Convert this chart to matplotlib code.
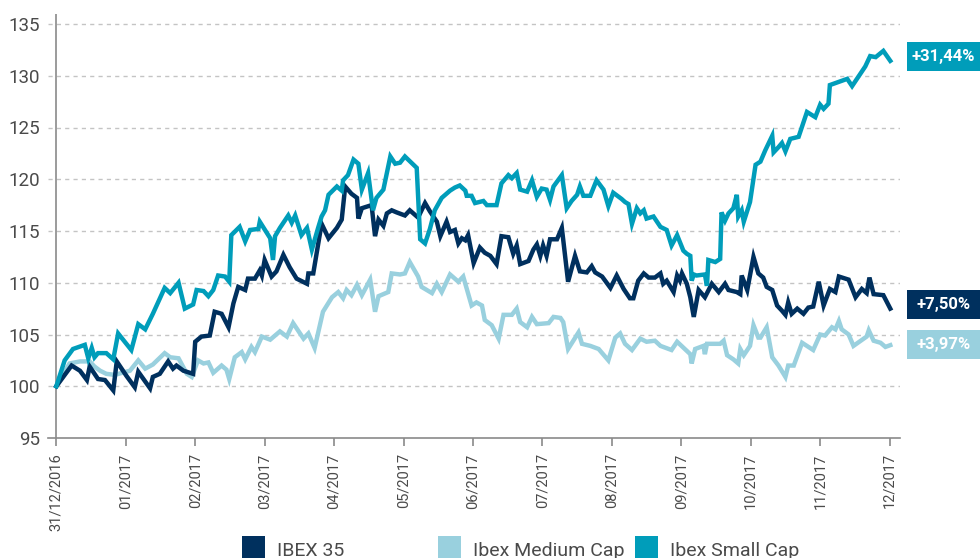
import matplotlib
matplotlib.use("Agg")
import matplotlib.pyplot as plt
import matplotlib.transforms as mtransforms
from matplotlib.patches import Rectangle

plt.rcParams['font.family'] = ['Roboto', 'DejaVu Sans']

# ---------------- data (x in months since 31/12/2016) ----------------
tick_labels = ["31/12/2016", "01/2017", "02/2017", "03/2017", "04/2017", "05/2017",
               "06/2017", "07/2017", "08/2017", "09/2017", "10/2017", "11/2017", "12/2017"]
y_ticks = [95, 100, 105, 110, 115, 120, 125, 130, 135]

series_names = ["IBEX 35", "Ibex Medium Cap", "Ibex Small Cap"]
final_labels = ["+7,50%", "+3,97%", "+31,44%"]

ibex35_x = [0, 0.22, 0.34, 0.44, 0.48, 0.60, 0.70, 0.82, 0.87, 1.01, 1.13, 1.18, 1.35, 1.39,
            1.49, 1.61, 1.68, 1.73, 1.83, 1.97, 2.00, 2.09, 2.21, 2.28, 2.38, 2.48, 2.55, 2.62,
            2.72, 2.76, 2.86, 2.93, 2.96, 3.00, 3.10, 3.17, 3.27, 3.36, 3.46, 3.61, 3.63, 3.70,
            3.82, 3.92, 4.04, 4.11, 4.16, 4.25, 4.33, 4.35, 4.40, 4.49, 4.54, 4.59, 4.64, 4.71,
            4.76, 4.83, 4.90, 5.02, 5.09, 5.21, 5.31, 5.38, 5.48, 5.53, 5.62, 5.67, 5.74, 5.79,
            5.84, 5.89, 5.93, 6.01, 6.10, 6.17, 6.25, 6.34, 6.41, 6.51, 6.58, 6.63, 6.68, 6.80,
            6.87, 6.92, 6.97, 7.01, 7.06, 7.11, 7.21, 7.28, 7.37, 7.47, 7.54, 7.64, 7.71, 7.76,
            7.86, 7.98, 8.07, 8.17, 8.26, 8.31, 8.38, 8.46, 8.53, 8.62, 8.70, 8.74, 8.79, 8.89,
            8.94, 8.98, 9.01, 9.08, 9.13, 9.18, 9.25, 9.34, 9.44, 9.54, 9.63, 9.68, 9.80, 9.85,
            9.87, 9.95, 10.04, 10.11, 10.18, 10.23, 10.31, 10.38, 10.45, 10.50, 10.54, 10.59,
            10.67, 10.76, 10.83, 10.90, 10.98, 11.05, 11.14, 11.22, 11.27, 11.41, 11.51, 11.60,
            11.67, 11.71, 11.77, 11.91, 12.01]
ibex35_y = [100, 102, 101.5, 100.6, 101.9, 100.7, 100.6, 99.6, 102.4, 101, 99.9, 101.4, 99.8,
            100.9, 101.2, 102.4, 101.7, 102, 101.5, 101.2, 104.3, 104.8, 104.9, 107.2, 107,
            105.7, 108, 109.6, 109.3, 110.4, 110.4, 111.2, 110.7, 112.2, 110.6, 111.1, 112.7,
            111.5, 110.4, 109.9, 110.9, 110.9, 115.7, 114.3, 115.3, 116.1, 119.3, 118.6, 118.2,
            116.2, 117.2, 117.4, 117.5, 114.5, 116.1, 115.5, 116.7, 117, 116.8, 116.5, 117,
            116.3, 117.7, 116.9, 115.9, 114.5, 115.9, 114.9, 115.1, 113.8, 114.3, 114.1, 114.6,
            111.9, 113.4, 112.9, 112.6, 111.8, 114.5, 114.4, 112.8, 113.6, 111.8, 112.1, 113.2,
            113.7, 112.6, 113.6, 112.6, 114.2, 114.2, 115.3, 110.1, 112.6, 111.1, 111, 111.6,
            111, 110.6, 109.5, 110.7, 109.4, 108.5, 108.5, 110.2, 110.9, 110.5, 110.5, 110.9,
            109.9, 110.2, 109.1, 110.7, 110.2, 110.9, 109.9, 108.6, 106.7, 109.3, 108.6, 109.9,
            109.1, 109.9, 109.3, 109.1, 108.9, 110.7, 109.3, 112.5, 110.9, 110.5, 109.6, 109.3,
            107.8, 107.3, 106.9, 108.1, 107, 107.5, 107, 107.6, 107.7, 110.1, 107.8, 109.4,
            109.1, 110.6, 110.3, 108.6, 109.4, 109, 110.5, 108.9, 108.8, 107.5]

medium_x = [0, 0.19, 0.34, 0.48, 0.55, 0.63, 0.72, 0.84, 1.06, 1.18, 1.28, 1.39, 1.56, 1.64,
            1.76, 1.88, 1.95, 2.04, 2.12, 2.19, 2.26, 2.38, 2.45, 2.49, 2.57, 2.67, 2.72, 2.81,
            2.86, 2.96, 3.08, 3.22, 3.32, 3.41, 3.56, 3.63, 3.72, 3.84, 3.97, 4.06, 4.13, 4.18,
            4.25, 4.33, 4.40, 4.52, 4.59, 4.64, 4.78, 4.83, 4.95, 5.02, 5.09, 5.21, 5.26, 5.41,
            5.48, 5.55, 5.67, 5.79, 5.86, 5.98, 6.05, 6.13, 6.17, 6.27, 6.37, 6.44, 6.56, 6.63,
            6.68, 6.78, 6.85, 6.92, 7.09, 7.16, 7.26, 7.30, 7.37, 7.52, 7.57, 7.69, 7.81, 7.95,
            8.05, 8.12, 8.19, 8.29, 8.41, 8.50, 8.62, 8.70, 8.86, 8.94, 9.13, 9.15, 9.20, 9.32,
            9.34, 9.37, 9.56, 9.61, 9.66, 9.75, 9.82, 9.85, 9.90, 9.99, 10.04, 10.11, 10.14,
            10.23, 10.31, 10.40, 10.50, 10.54, 10.62, 10.74, 10.90, 11.00, 11.07, 11.17, 11.22,
            11.27, 11.31, 11.41, 11.48, 11.67, 11.70, 11.77, 11.87, 11.94, 12.01]
medium_y = [100, 102.2, 102.4, 102.4, 101.9, 101.5, 101.2, 101.1, 101.5, 102.5, 101.7, 102.1,
            103.2, 102.8, 102.7, 101.2, 100.9, 102.5, 102.2, 102.3, 101.3, 102, 101.6, 100.7,
            102.8, 103.3, 102.6, 103.8, 103.3, 104.8, 104.5, 105.3, 104.8, 106.1, 104.6, 105.1,
            103.7, 107.2, 108.6, 109.1, 108.5, 109.3, 108.8, 109.8, 108.8, 110.3, 107.2, 108.7,
            109.1, 110.9, 110.8, 110.9, 112, 110.6, 109.6, 109, 109.9, 109.1, 110.8, 110.1,
            110.6, 107.8, 108.1, 107.8, 106.4, 105.9, 104.6, 106.9, 106.9, 107.5, 106.2, 105.7,
            106.7, 106, 106.1, 106.7, 106.6, 106.2, 103.6, 105.2, 104.1, 103.9, 103.6, 102.5,
            104.7, 105.1, 104.1, 103.5, 104.6, 104.3, 104.4, 103.9, 103.5, 104.3, 103.1, 102.2,
            103.6, 103.9, 103.1, 104.1, 104.1, 104.4, 103, 102.6, 102.2, 103.6, 103, 103.9,
            105.9, 104.7, 104.7, 105.7, 102.8, 102, 100.9, 102, 102, 104.2, 103.5, 105, 104.9,
            105.7, 105.5, 106.3, 105.5, 105, 103.9, 104.8, 105.4, 104.4, 104.2, 103.8, 103.97]

small_x = [0, 0.12, 0.24, 0.41, 0.46, 0.51, 0.55, 0.60, 0.72, 0.82, 0.89, 1.08, 1.18, 1.28,
           1.39, 1.56, 1.64, 1.76, 1.85, 1.97, 2.02, 2.12, 2.19, 2.26, 2.33, 2.43, 2.49, 2.52,
           2.64, 2.72, 2.79, 2.91, 2.93, 3.08, 3.12, 3.15, 3.22, 3.34, 3.39, 3.44, 3.53, 3.61,
           3.68, 3.77, 3.82, 3.87, 3.92, 4.04, 4.11, 4.13, 4.20, 4.28, 4.35, 4.40, 4.49, 4.56,
           4.61, 4.71, 4.81, 4.88, 4.95, 5.02, 5.19, 5.24, 5.31, 5.38, 5.45, 5.55, 5.67, 5.74,
           5.81, 5.89, 5.91, 5.98, 6.03, 6.15, 6.20, 6.34, 6.41, 6.51, 6.56, 6.63, 6.68, 6.78,
           6.85, 6.92, 6.99, 7.06, 7.11, 7.16, 7.28, 7.35, 7.42, 7.50, 7.54, 7.59, 7.69, 7.78,
           7.88, 7.95, 8.02, 8.14, 8.19, 8.24, 8.29, 8.36, 8.41, 8.46, 8.50, 8.60, 8.70, 8.79,
           8.86, 8.94, 9.03, 9.08, 9.13, 9.15, 9.18, 9.22, 9.34, 9.37, 9.39, 9.49, 9.56, 9.58,
           9.63, 9.68, 9.75, 9.80, 9.82, 9.87, 9.90, 9.99, 10.07, 10.14, 10.21, 10.31, 10.33,
           10.40, 10.45, 10.50, 10.57, 10.69, 10.81, 10.93, 11.00, 11.05, 11.12, 11.14, 11.39,
           11.46, 11.57, 11.65, 11.72, 11.80, 11.91, 12.01]
small_y = [100, 102.5, 103.6, 104, 102.7, 103.7, 102.8, 103.2, 103.2, 102.6, 105.1, 103.5,
           106, 105.5, 107, 109.5, 109, 110, 107.5, 107.9, 109.3, 109.2, 108.7, 109.3, 110.7,
           110.6, 110.1, 114.6, 115.4, 114, 115.1, 115.2, 115.9, 114.3, 112.2, 114.5, 115.3,
           116.5, 115.8, 116.5, 114.6, 115.3, 113.2, 115.3, 116.4, 117, 118.5, 119.3, 118.9,
           119.9, 120.4, 121.9, 121.5, 119, 120.6, 117, 118.2, 119, 122.2, 121.5, 121.6, 122.2,
           121.1, 114.2, 113.8, 115.2, 117, 118.2, 118.9, 119.2, 119.4, 118.9, 118.4, 118.4,
           117.7, 117.9, 117.5, 117.5, 119.6, 120.4, 120.1, 120.6, 119, 118.8, 119.9, 118.3,
           119.1, 119, 118, 119.3, 120.4, 117.2, 117.9, 118.5, 119.3, 118.4, 118.4, 119.9, 119,
           117.4, 118.7, 118.1, 117.8, 117.6, 115.7, 117.2, 116.7, 117, 116.2, 116.4, 115.4,
           115.1, 113.6, 114.6, 113.1, 112.8, 112.6, 110.2, 110.8, 110.7, 110.8, 109.7, 112.2,
           112, 112.3, 116.8, 116, 116.7, 117.2, 118.5, 116.4, 117, 115.9, 117.8, 121.4, 121.7,
           122.8, 124.2, 122.6, 123.1, 123.5, 122.7, 123.9, 124.1, 126.5, 126, 127.2, 126.8,
           127.3, 129.1, 129.7, 129, 130.1, 130.9, 131.9, 131.8, 132.4, 131.44]

# ---------------- styling ----------------
c_ibex = "#00305E"
c_med = "#99D0DE"
c_small = "#009DBA"
colors = [c_ibex, c_med, c_small]
txt_col = "#4a4a4a"

fig = plt.figure(figsize=(9.8, 5.58), dpi=100)
ax = fig.add_axes([48 / 980, 1 - 438 / 558, (900 - 48) / 980, (438 - 13.65) / 558])

ax.plot(medium_x, medium_y, color=c_med, lw=3.2, solid_joinstyle='miter', zorder=3)
ax.plot(ibex35_x, ibex35_y, color=c_ibex, lw=3.2, solid_joinstyle='miter', zorder=4)
ax.plot(small_x, small_y, color=c_small, lw=3.2, solid_joinstyle='miter', zorder=5)

ax.set_xlim(-0.12, 12.15)
ax.set_ylim(95, 136)

# grid
for v in y_ticks[1:]:
    ax.axhline(v, color="#c4c4c4", lw=1, ls=(0, (3, 3)), zorder=1)
ax.axvline(0, color="#8a8a8a", lw=1.2, zorder=2)

for s in ["top", "right", "left"]:
    ax.spines[s].set_visible(False)
ax.spines["bottom"].set_color("#8a8a8a")
ax.spines["bottom"].set_linewidth(1.2)

ax.set_yticks(y_ticks)
ax.set_yticklabels([str(v) for v in y_ticks])
ax.tick_params(axis="y", length=0, pad=6, labelsize=13.5, labelcolor=txt_col)
ax.set_xticks(range(len(tick_labels)))
ax.set_xticklabels(tick_labels, rotation=90)
ax.tick_params(axis="x", length=6, width=1.2, color="#8a8a8a", pad=5,
               labelsize=10.5, labelcolor=txt_col)

# end labels
trans = mtransforms.blended_transform_factory(fig.transFigure, ax.transData)
final_vals = [ibex35_y[-1], medium_y[-1], small_y[-1]]
offsets = [0.4, 0.05, 0.45]
for name, lab, val, off, col in zip(series_names, final_labels, final_vals, offsets, colors):
    yc = val + off
    h = 2.8
    rect = Rectangle((907 / 980, yc - h / 2), 73 / 980, h, transform=trans,
                     facecolor=col, edgecolor="none", clip_on=False)
    fig.add_artist(rect)
    fig.text(943.5 / 980, yc, lab, transform=trans, ha="center", va="center",
             color="white", fontsize=12, fontweight="bold")

# legend
leg_x = [242, 438, 635]
for name, col, lx in zip(series_names, colors, leg_x):
    fig.add_artist(Rectangle((lx / 980, -0.01), 23 / 980, (558 - 536) / 558 + 0.01,
                             transform=fig.transFigure, facecolor=col, edgecolor="none"))
    fig.text((lx + 35) / 980, 1 - 555.5 / 558, name, ha="left", va="baseline",
             fontsize=14, color=txt_col)

fig.savefig("out.png", dpi=100)
